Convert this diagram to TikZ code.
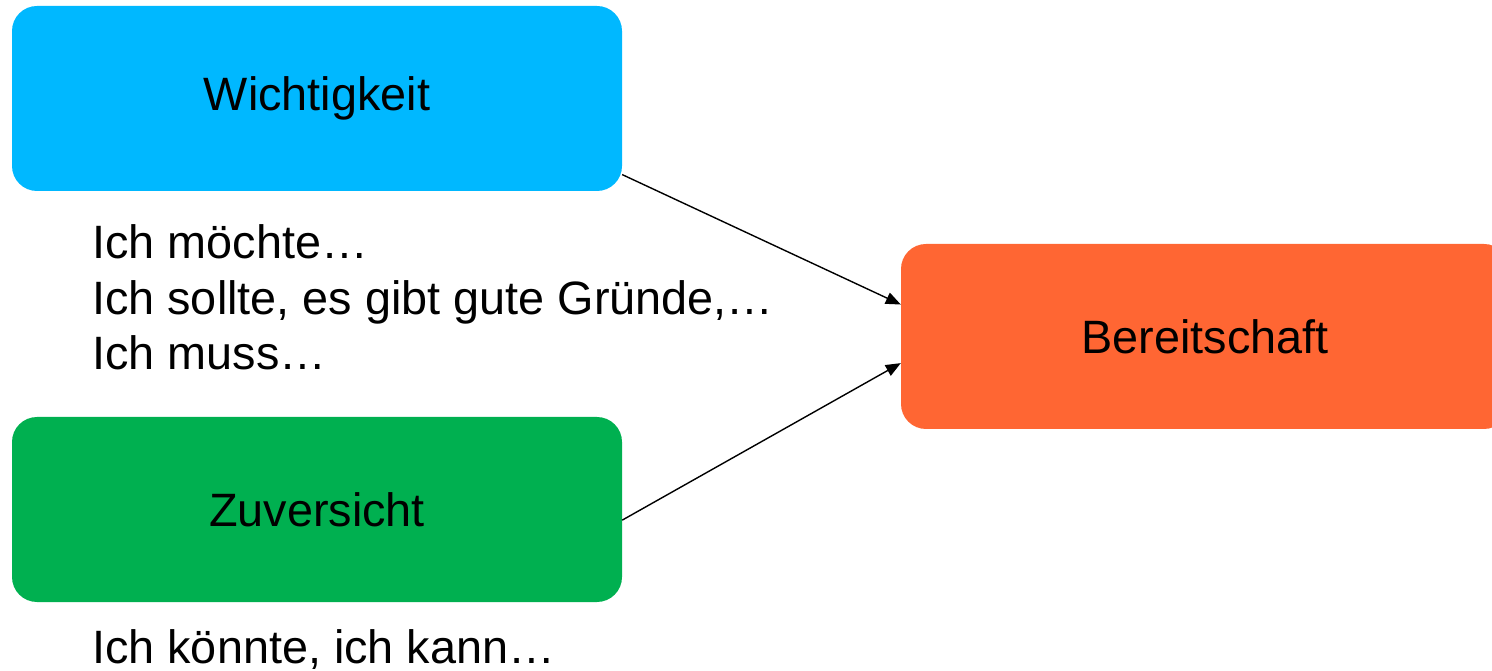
\documentclass[tikz,border=0pt]{standalone}
\usepackage{fontspec}
\setmainfont{Liberation Sans}
\usetikzlibrary{arrows.meta}
\definecolor{wblue}{RGB}{0,184,255}
\definecolor{zgreen}{RGB}{0,176,80}
\definecolor{borange}{RGB}{255,102,51}
\tikzset{
  box/.style={rounded corners=25pt, minimum width=610pt, minimum height=185pt,
    inner sep=0pt, text=black},
  label/.style={inner sep=0pt, align=left},
  link/.style={line width=1.4pt, -{Triangle[length=15pt,width=12pt]}},
}
\begin{document}
\begin{tikzpicture}[x=1pt,y=1pt,font=\fontsize{46.8}{55.5}\selectfont]
  \useasboundingbox (0,0) rectangle (1492,670);
  \clip (0,0) rectangle (1492,670);
  % three factors
  \node[box, fill=wblue] (w) at (317,571.5) {Wichtigkeit};
  \node[box, fill=zgreen] (z) at (317,160.5) {Zuversicht};
  \node[box, fill=borange, minimum width=608pt] (b) at (1205,333.5) {Bereitschaft};
  % explanations (anchored at the baseline of the last line)
  \node[label, anchor=base west] (wtext) at (92,300)
    {Ich möchte…\\Ich sollte, es gibt gute Gründe,…\\Ich muss…};
  \node[label, anchor=base west] (ztext) at (92,7) {Ich könnte, ich kann…};
  % connectors
  \draw[link] (w.-14.8) -- (b.174.8);
  \draw[link] (z.-2.3) -- (b.185.2);
\end{tikzpicture}
\end{document}
